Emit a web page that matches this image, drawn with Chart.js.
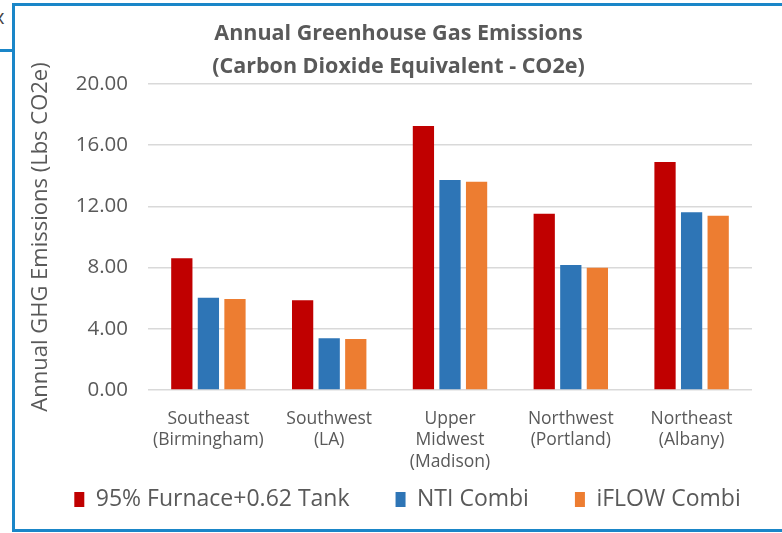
<!DOCTYPE html>
<html>
<head>
<meta charset="utf-8">
<script src="https://cdn.jsdelivr.net/npm/chart.js@4"></script>
<style>
  body { margin: 0; background: #fff; width: 782px; height: 533px; position: relative; overflow: hidden; font-family: "Open Sans", sans-serif; }
  #frame { position: absolute; left: 12px; top: 3px; width: 780px; height: 523px; border: 3px solid #1a86c8; border-right: none; }
  #tab { position: absolute; left: 0; top: 49px; width: 13px; height: 3px; background: #1a86c8; }
  #x { position: absolute; left: -6px; top: 3px; font-size: 20px; color: #444; }
  #wrap { position: absolute; left: 15px; top: 6px; width: 767px; height: 522px; }
</style>
</head>
<body>
<div id="x">x</div>
<div id="tab"></div>
<div id="frame"></div>
<div id="wrap"><canvas id="myChart"></canvas></div>
<script>
const ctx = document.getElementById('myChart');

const REGIONS = [
  ['Southeast', '(Birmingham)'],
  ['Southwest', '(LA)'],
  ['Upper', 'Midwest', '(Madison)'],
  ['Northwest', '(Portland)'],
  ['Northeast', '(Albany)']
];
const FURNACE_TANK = [8.61, 5.86, 17.25, 11.52, 14.90];
const NTI_COMBI = [6.03, 3.38, 13.73, 8.17, 11.61];
const IFLOW_COMBI = [5.95, 3.33, 13.61, 7.99, 11.39];
const Y_TICKS = [0, 4, 8, 12, 16, 20];

const GRAY = '#595959';
const FONT = 'Open Sans';

// legend sits a bit right of centre and lower, and the category labels
// run down behind the legend box, so give the x axis room to draw them
const tweakLayout = {
  id: 'tweakLayout',
  afterLayout(chart) {
    chart.legend.left += 9;
    chart.legend.right += 9;
    chart.legend.top += 4;
    chart.legend.bottom += 4;
    chart.scales.x.bottom += 45;
  }
};

new Chart(ctx, {
  type: 'bar',
  data: {
    labels: REGIONS,
    datasets: [
      { label: '95% Furnace+0.62 Tank', data: FURNACE_TANK, backgroundColor: '#c00000', yAxisID: 'y' },
      { label: 'NTI Combi', data: NTI_COMBI, backgroundColor: '#2e75b6', yAxisID: 'y' },
      { label: 'iFLOW Combi', data: IFLOW_COMBI, backgroundColor: '#ed7d31', yAxisID: 'y' }
    ]
  },
  plugins: [tweakLayout],
  options: {
    responsive: true,
    maintainAspectRatio: false,
    animation: false,
    categoryPercentage: 0.66,
    barPercentage: 0.8,
    layout: { padding: { left: 0, right: 0, top: 11, bottom: 11 } },
    plugins: {
      title: {
        display: true,
        text: ['Annual Greenhouse Gas Emissions', '(Carbon Dioxide Equivalent - CO2e)'],
        color: GRAY,
        font: { family: FONT, size: 21.5, weight: 'bold', lineHeight: '33px' },
        padding: { top: 0, bottom: 1 }
      },
      legend: {
        position: 'bottom',
        labels: {
          color: GRAY,
          font: { family: FONT, size: 23 },
          boxWidth: 10,
          boxHeight: 15,
          padding: 46
        }
      },
      tooltip: { enabled: false }
    },
    scales: {
      x: {
        grid: { display: false },
        border: { display: false },
        ticks: { color: GRAY, font: { family: FONT, size: 17.5, lineHeight: '21.5px' }, padding: 10, maxRotation: 0 },
        afterFit: s => { s.height = 48; }
      },
      y: {
        min: 0,
        max: 20,
        afterBuildTicks: s => { s.ticks = Y_TICKS.map(v => ({ value: v })); },
        grid: { color: '#d9d9d9', lineWidth: 1.5, drawTicks: false },
        border: { display: false },
        ticks: {
          color: GRAY,
          font: { family: FONT, size: 20.5 },
          padding: 20,
          callback: v => v.toFixed(2)
        },
        title: {
          display: true,
          text: 'Annual GHG Emissions (Lbs CO2e)',
          color: GRAY,
          font: { family: FONT, size: 22 },
          padding: { top: 13, bottom: 0 }
        },
        afterFit: s => { s.width = 133; }
      },
      // empty right-hand strip so the title centres on the whole frame
      yRight: {
        position: 'right',
        grid: { display: false },
        border: { display: false },
        ticks: { display: false },
        afterFit: s => { s.width = 30; }
      }
    }
  }
});
</script>
</body>
</html>
